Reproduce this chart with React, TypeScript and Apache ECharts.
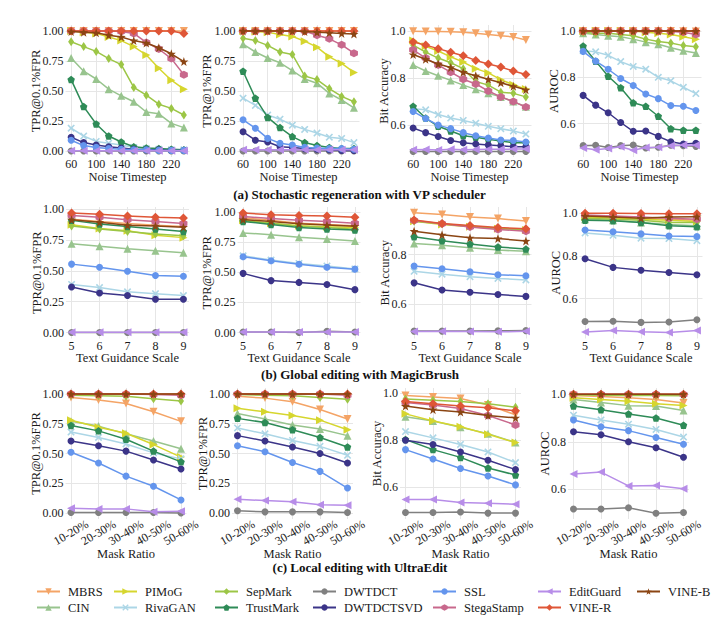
import React, { useEffect, useRef } from "react";
import * as echarts from "echarts";

// ---------- data ----------
const METHODS = ["MBRS", "CIN", "PIMoG", "RivaGAN", "SepMark", "TrustMark", "DWTDCT", "DWTDCTSVD", "SSL", "StegaStamp", "EditGuard", "VINE-R", "VINE-B"];

const NOISE_STEPS = [60, 80, 100, 120, 140, 160, 180, 200, 220, 240];
const NOISE_TICKS = [60, 100, 140, 180, 220];
const GUIDANCE_SCALES = [5, 6, 7, 8, 9];
const MASK_RATIOS = ["10-20%", "20-30%", "30-40%", "40-50%", "50-60%"];
const MASK_INDEX = [0, 1, 2, 3, 4];
const TPR_TICKS = [0, 0.25, 0.5, 0.75, 1.0];
const ACC_TICKS = [0.6, 0.8, 1.0];

// order of rows in each block follows METHODS
const REGEN_TPR01 = [
  [1, 1, 1, 1, 1, 1, 1, 1, 1, 1],
  [0.775, 0.665, 0.6, 0.515, 0.46, 0.41, 0.325, 0.31, 0.23, 0.195],
  [1.0, 0.99, 0.98, 0.95, 0.92, 0.87, 0.8, 0.69, 0.59, 0.515],
  [0.19, 0.125, 0.08, 0.065, 0.05, 0.03, 0.02, 0.015, 0.01, 0.01],
  [0.91, 0.87, 0.83, 0.77, 0.72, 0.53, 0.465, 0.39, 0.355, 0.3],
  [0.595, 0.37, 0.225, 0.125, 0.075, 0.035, 0.025, 0.02, 0.015, 0.01],
  [0, 0, 0, 0, 0, 0, 0, 0, 0, 0],
  [0.115, 0.07, 0.05, 0.035, 0.025, 0.015, 0.01, 0.01, 0.005, 0.005],
  [0.09, 0.045, 0.03, 0.02, 0.015, 0.01, 0.01, 0.005, 0.005, 0.005],
  [1, 1, 1, 1, 0.995, 0.98, 0.905, 0.85, 0.77, 0.635],
  [0.002, 0.002, 0.002, 0.002, 0.002, 0.002, 0.002, 0.002, 0.002, 0.002],
  [1, 1, 1, 1, 1, 1, 1, 1, 1, 0.98],
  [0.995, 0.99, 0.985, 0.965, 0.95, 0.92, 0.9, 0.86, 0.81, 0.745],
];
const REGEN_TPR1 = [
  [1, 1, 1, 1, 1, 1, 1, 1, 1, 1],
  [0.89, 0.825, 0.775, 0.735, 0.67, 0.6, 0.565, 0.48, 0.425, 0.36],
  [1.0, 0.995, 0.99, 0.97, 0.955, 0.915, 0.865, 0.785, 0.73, 0.655],
  [0.44, 0.38, 0.3, 0.265, 0.215, 0.18, 0.15, 0.115, 0.105, 0.07],
  [0.94, 0.92, 0.88, 0.825, 0.805, 0.625, 0.595, 0.52, 0.455, 0.41],
  [0.665, 0.44, 0.28, 0.195, 0.12, 0.07, 0.045, 0.03, 0.02, 0.02],
  [0, 0, 0, 0, 0, 0, 0, 0, 0, 0],
  [0.16, 0.09, 0.075, 0.035, 0.03, 0.02, 0.015, 0.01, 0.005, 0.005],
  [0.26, 0.19, 0.105, 0.065, 0.05, 0.03, 0.025, 0.02, 0.02, 0.015],
  [1, 1, 1, 1, 1, 1, 0.965, 0.935, 0.885, 0.815],
  [0.01, 0.01, 0.01, 0.01, 0.01, 0.01, 0.01, 0.01, 0.01, 0.01],
  [1, 1, 1, 1, 1, 1, 1, 1, 1, 1],
  [1, 1, 1, 1, 1, 0.995, 0.99, 0.985, 0.98, 0.975],
];
const REGEN_ACC = [
  [0.999, 0.998, 0.998, 0.997, 0.995, 0.99, 0.985, 0.98, 0.975, 0.962],
  [0.855, 0.83, 0.81, 0.79, 0.77, 0.752, 0.735, 0.72, 0.7, 0.678],
  [0.96, 0.935, 0.915, 0.89, 0.868, 0.84, 0.822, 0.793, 0.772, 0.753],
  [0.67, 0.665, 0.645, 0.63, 0.62, 0.608, 0.595, 0.585, 0.575, 0.562],
  [0.94, 0.91, 0.885, 0.865, 0.84, 0.785, 0.77, 0.74, 0.735, 0.72],
  [0.68, 0.63, 0.595, 0.575, 0.555, 0.548, 0.54, 0.532, 0.525, 0.525],
  [0.488, 0.488, 0.488, 0.488, 0.488, 0.488, 0.488, 0.488, 0.488, 0.488],
  [0.588, 0.568, 0.552, 0.535, 0.525, 0.52, 0.515, 0.512, 0.508, 0.508],
  [0.658, 0.628, 0.6, 0.585, 0.568, 0.555, 0.545, 0.537, 0.535, 0.528],
  [0.92, 0.885, 0.855, 0.825, 0.795, 0.775, 0.745, 0.72, 0.7, 0.677],
  [0.495, 0.496, 0.494, 0.497, 0.495, 0.496, 0.497, 0.497, 0.498, 0.499],
  [0.953, 0.94, 0.925, 0.91, 0.895, 0.875, 0.86, 0.847, 0.83, 0.815],
  [0.9, 0.88, 0.86, 0.845, 0.825, 0.81, 0.795, 0.78, 0.765, 0.75],
];
const REGEN_AUROC = [
  [1, 1, 1, 1, 1, 1, 1, 1, 0.999, 0.998],
  [0.99, 0.985, 0.98, 0.975, 0.965, 0.952, 0.943, 0.928, 0.915, 0.905],
  [1, 1, 1, 1, 1, 0.995, 0.99, 0.985, 0.975, 0.965],
  [0.915, 0.91, 0.895, 0.868, 0.847, 0.835, 0.8, 0.785, 0.757, 0.73],
  [0.995, 0.99, 0.99, 0.985, 0.98, 0.965, 0.955, 0.948, 0.937, 0.932],
  [0.935, 0.87, 0.805, 0.755, 0.69, 0.675, 0.632, 0.578, 0.572, 0.572],
  [0.505, 0.507, 0.497, 0.505, 0.508, 0.495, 0.498, 0.507, 0.505, 0.502],
  [0.722, 0.68, 0.647, 0.605, 0.567, 0.568, 0.545, 0.522, 0.512, 0.515],
  [0.912, 0.87, 0.835, 0.795, 0.765, 0.728, 0.708, 0.678, 0.675, 0.657],
  [1, 1, 1, 1, 1, 1, 1, 0.998, 0.995, 0.985],
  [0.495, 0.487, 0.493, 0.5, 0.485, 0.497, 0.498, 0.505, 0.508, 0.507],
  [1, 1, 1, 1, 1, 1, 1, 1, 1, 1],
  [1, 1, 1, 1, 1, 1, 1, 1, 1, 1],
];

const EDIT_TPR01 = [
  [0.92, 0.9, 0.885, 0.87, 0.86],
  [0.72, 0.7, 0.68, 0.663, 0.648],
  [0.875, 0.845, 0.825, 0.79, 0.77],
  [0.39, 0.365, 0.33, 0.315, 0.3],
  [0.865, 0.84, 0.82, 0.8, 0.785],
  [0.91, 0.88, 0.86, 0.84, 0.82],
  [0, 0, 0, 0, 0],
  [0.37, 0.32, 0.3, 0.27, 0.27],
  [0.555, 0.53, 0.497, 0.462, 0.457],
  [0.95, 0.935, 0.915, 0.9, 0.885],
  [0.003, 0.003, 0.003, 0.003, 0.003],
  [0.97, 0.96, 0.945, 0.935, 0.93],
  [0.915, 0.895, 0.87, 0.865, 0.855],
];
const EDIT_TPR1 = [
  [0.95, 0.93, 0.905, 0.895, 0.885],
  [0.825, 0.81, 0.79, 0.775, 0.757],
  [0.93, 0.905, 0.885, 0.875, 0.87],
  [0.635, 0.6, 0.572, 0.55, 0.527],
  [0.925, 0.905, 0.88, 0.87, 0.855],
  [0.92, 0.895, 0.87, 0.857, 0.85],
  [0.005, 0.005, 0.0, 0.01, 0.005],
  [0.49, 0.43, 0.415, 0.398, 0.355],
  [0.627, 0.595, 0.565, 0.54, 0.525],
  [0.96, 0.945, 0.93, 0.92, 0.905],
  [0.005, 0.005, 0.005, 0.005, 0.005],
  [0.99, 0.975, 0.97, 0.965, 0.955],
  [0.935, 0.92, 0.9, 0.89, 0.88],
];
const EDIT_ACC = [
  [0.97, 0.963, 0.952, 0.946, 0.936],
  [0.845, 0.838, 0.828, 0.818, 0.813],
  [0.935, 0.922, 0.913, 0.905, 0.9],
  [0.732, 0.72, 0.71, 0.703, 0.697],
  [0.935, 0.925, 0.915, 0.907, 0.9],
  [0.872, 0.856, 0.843, 0.831, 0.822],
  [0.489, 0.489, 0.489, 0.49, 0.491],
  [0.685, 0.656, 0.647, 0.638, 0.63],
  [0.753, 0.742, 0.73, 0.718, 0.714],
  [0.938, 0.925, 0.912, 0.902, 0.895],
  [0.487, 0.488, 0.487, 0.486, 0.488],
  [0.94, 0.926, 0.918, 0.91, 0.905],
  [0.895, 0.88, 0.868, 0.865, 0.855],
];
const EDIT_AUROC = [
  [0.985, 0.98, 0.975, 0.97, 0.965],
  [0.97, 0.965, 0.955, 0.945, 0.94],
  [0.98, 0.975, 0.97, 0.965, 0.96],
  [0.906, 0.895, 0.882, 0.88, 0.87],
  [0.975, 0.97, 0.965, 0.955, 0.955],
  [0.965, 0.963, 0.955, 0.94, 0.935],
  [0.494, 0.495, 0.49, 0.492, 0.502],
  [0.786, 0.746, 0.733, 0.722, 0.712],
  [0.92, 0.912, 0.902, 0.892, 0.89],
  [0.99, 0.985, 0.98, 0.975, 0.97],
  [0.445, 0.452, 0.446, 0.443, 0.452],
  [0.998, 0.998, 0.997, 0.996, 0.996],
  [0.985, 0.98, 0.975, 0.98, 0.982],
];

const LOCAL_TPR01 = [
  [0.97, 0.95, 0.92, 0.85, 0.77],
  [0.77, 0.73, 0.665, 0.605, 0.54],
  [0.78, 0.72, 0.67, 0.575, 0.47],
  [0.68, 0.635, 0.58, 0.505, 0.455],
  [0.99, 0.985, 0.98, 0.96, 0.94],
  [0.735, 0.69, 0.62, 0.52, 0.43],
  [0.005, 0.005, 0.005, 0.005, 0.0],
  [0.605, 0.565, 0.52, 0.445, 0.37],
  [0.51, 0.42, 0.31, 0.225, 0.11],
  [1, 1, 1, 0.995, 0.99],
  [0.04, 0.035, 0.035, 0.01, 0.015],
  [1, 1, 1, 1, 1],
  [1, 1, 1, 1, 1],
];
const LOCAL_TPR1 = [
  [0.98, 0.965, 0.935, 0.87, 0.79],
  [0.835, 0.79, 0.74, 0.705, 0.65],
  [0.88, 0.85, 0.82, 0.78, 0.7],
  [0.715, 0.665, 0.61, 0.56, 0.485],
  [0.995, 0.99, 0.985, 0.97, 0.955],
  [0.795, 0.76, 0.7, 0.635, 0.555],
  [0.02, 0.01, 0.01, 0.01, 0.005],
  [0.65, 0.605, 0.555, 0.5, 0.42],
  [0.565, 0.515, 0.425, 0.35, 0.21],
  [1, 1, 1, 1, 0.99],
  [0.115, 0.105, 0.095, 0.07, 0.065],
  [1, 1, 1, 1, 1],
  [1, 1, 1, 1, 1],
];
const LOCAL_ACC = [
  [0.99, 0.984, 0.977, 0.95, 0.908],
  [0.9, 0.882, 0.855, 0.828, 0.79],
  [0.912, 0.882, 0.857, 0.825, 0.79],
  [0.837, 0.81, 0.782, 0.75, 0.705],
  [0.975, 0.97, 0.965, 0.955, 0.94],
  [0.803, 0.76, 0.727, 0.682, 0.652],
  [0.493, 0.493, 0.495, 0.49, 0.49],
  [0.8, 0.782, 0.75, 0.715, 0.675],
  [0.76, 0.72, 0.68, 0.648, 0.61],
  [0.96, 0.95, 0.935, 0.905, 0.865],
  [0.548, 0.548, 0.535, 0.532, 0.528],
  [0.965, 0.955, 0.945, 0.938, 0.925],
  [0.945, 0.93, 0.92, 0.905, 0.895],
];
const LOCAL_AUROC = [
  [0.995, 0.99, 0.985, 0.978, 0.963],
  [0.978, 0.965, 0.952, 0.95, 0.932],
  [0.985, 0.978, 0.97, 0.96, 0.953],
  [0.912, 0.892, 0.874, 0.852, 0.82],
  [0.998, 0.996, 0.995, 0.994, 0.993],
  [0.95, 0.935, 0.917, 0.9, 0.87],
  [0.518, 0.518, 0.523, 0.5, 0.503],
  [0.842, 0.83, 0.8, 0.775, 0.735],
  [0.892, 0.863, 0.847, 0.818, 0.79],
  [1, 1, 1, 1, 0.999],
  [0.665, 0.673, 0.615, 0.617, 0.603],
  [1, 1, 1, 1, 1],
  [1, 1, 1, 1, 1],
];

// ---------- style ----------
const FONT = '"Liberation Serif", "Times New Roman", Times, serif';
const TEXT = "#1a1a1a";
const GRID_LINE = "#e6e6e6";

const COLORS = ["#f4a466", "#98c48e", "#d6d62e", "#acd6e6", "#9cc646", "#2e8b57", "#808080", "#3b3488", "#6495ed", "#c8688c", "#b78de8", "#df5637", "#8b4513"];
const SYMBOLS = [
  "path://M0,0L10,0L5,9Z",
  "path://M5,0L10,9L0,9Z",
  "path://M0,0L9,5L0,10Z",
  "path://M1.5,0L5,3.5L8.5,0L10,1.5L6.5,5L10,8.5L8.5,10L5,6.5L1.5,10L0,8.5L3.5,5L0,1.5Z",
  "diamond",
  "path://M5,0L9.76,3.45L7.94,9.05L2.06,9.05L0.24,3.45Z",
  "circle",
  "circle",
  "circle",
  "path://M5,0L9.33,2.5L9.33,7.5L5,10L0.67,7.5L0.67,2.5Z",
  "path://M9,0L0,5L9,10Z",
  "diamond",
  "path://M5,0L6.18,3.38L9.76,3.45L6.9,5.62L7.94,9.05L5,7L2.06,9.05L3.1,5.62L0.24,3.45L3.82,3.38Z",
];
const SYMBOL_SIZES: any[] = [8, 8, 8, 7.5, [6, 9], 7.5, 7, 7, 7, 8, 8, 9, 9];

type Panel = {
  data: number[][];
  row: number;
  col: number;
  yName: string;
  yMin: number;
  yMax: number;
  yTicks: number[];
  dec: number;
};

const ROW_TOP = [25, 207, 388];
const ROW_H = [132, 131.5, 131];
const ROW_LEFTS = [
  [65.5, 237.5, 407.5, 577.5],
  [66, 237.5, 408.5, 579.5],
  [65.5, 232, 400, 568],
];
const ROW_W = [
  [124, 122, 124, 124],
  [123, 123, 123, 123],
  [121, 121, 121, 121],
];
const NAME_GAPS = [
  [23.5, 24.5, 17.5, 17.5],
  [23.5, 25, 17.5, 18],
  [23.5, 23.5, 17.5, 17.5],
];

const PANELS: Panel[] = [
  { data: REGEN_TPR01, row: 0, col: 0, yName: "TPR@0.1%FPR", yMin: -0.05, yMax: 1.05, yTicks: TPR_TICKS, dec: 2 },
  { data: REGEN_TPR1, row: 0, col: 1, yName: "TPR@1%FPR", yMin: -0.05, yMax: 1.05, yTicks: TPR_TICKS, dec: 2 },
  { data: REGEN_ACC, row: 0, col: 2, yName: "Bit Accuracy", yMin: 0.4645, yMax: 1.0255, yTicks: ACC_TICKS, dec: 1 },
  { data: REGEN_AUROC, row: 0, col: 3, yName: "AUROC", yMin: 0.456, yMax: 1.026, yTicks: ACC_TICKS, dec: 1 },
  { data: EDIT_TPR01, row: 1, col: 0, yName: "TPR@0.1%FPR", yMin: -0.0485, yMax: 1.0185, yTicks: TPR_TICKS, dec: 2 },
  { data: EDIT_TPR1, row: 1, col: 1, yName: "TPR@1%FPR", yMin: -0.0495, yMax: 1.0395, yTicks: TPR_TICKS, dec: 2 },
  { data: EDIT_ACC, row: 1, col: 2, yName: "Bit Accuracy", yMin: 0.459, yMax: 0.993, yTicks: ACC_TICKS, dec: 1 },
  { data: EDIT_AUROC, row: 1, col: 3, yName: "AUROC", yMin: 0.415, yMax: 1.027, yTicks: ACC_TICKS, dec: 1 },
  { data: LOCAL_TPR01, row: 2, col: 0, yName: "TPR@0.1%FPR", yMin: -0.05, yMax: 1.05, yTicks: TPR_TICKS, dec: 2 },
  { data: LOCAL_TPR1, row: 2, col: 1, yName: "TPR@1%FPR", yMin: -0.05, yMax: 1.05, yTicks: TPR_TICKS, dec: 2 },
  { data: LOCAL_ACC, row: 2, col: 2, yName: "Bit Accuracy", yMin: 0.465, yMax: 1.022, yTicks: ACC_TICKS, dec: 1 },
  { data: LOCAL_AUROC, row: 2, col: 3, yName: "AUROC", yMin: 0.476, yMax: 1.026, yTicks: ACC_TICKS, dec: 1 },
];

const ROW_X = [
  { xs: NOISE_STEPS, min: 51, max: 249, ticks: NOISE_TICKS, name: "Noise Timestep", nameGap: 13.5, fmt: (v: number) => String(v) },
  { xs: GUIDANCE_SCALES, min: 4.8, max: 9.2, ticks: GUIDANCE_SCALES, name: "Text Guidance Scale", nameGap: 13.5, fmt: (v: number) => String(v) },
  { xs: MASK_INDEX, min: -0.2, max: 4.2, ticks: MASK_INDEX, name: "Mask Ratio", nameGap: 29, fmt: (v: number) => MASK_RATIOS[Math.round(v)] },
];

const CAPTIONS = [
  { text: "(a) Stochastic regeneration with VP scheduler", y: 194.5 },
  { text: "(b) Global editing with MagicBrush", y: 374.5 },
  { text: "(c) Local editing with UltraEdit", y: 567.5 },
];

const LEGEND_X = [36, 113, 214, 312, 432, 537, 636];
const LEGEND_Y = [592, 608];

function buildOption() {
  const grid: any[] = [];
  const xAxis: any[] = [];
  const yAxis: any[] = [];
  const series: any[] = [];

  PANELS.forEach((p, i) => {
    const rx = ROW_X[p.row];
    grid.push({
      left: ROW_LEFTS[p.row][p.col],
      top: ROW_TOP[p.row],
      width: ROW_W[p.row][p.col],
      height: ROW_H[p.row],
      containLabel: false,
      outerBoundsMode: "none",
    });
    const rotated = p.row === 2;
    xAxis.push({
      gridIndex: i,
      type: "value",
      min: rx.min,
      max: rx.max,
      axisLine: { show: false },
      axisTick: { show: false, customValues: rx.ticks },
      axisLabel: {
        customValues: rx.ticks,
        formatter: rx.fmt,
        fontFamily: FONT,
        fontSize: 12,
        lineHeight: 12,
        color: TEXT,
        margin: rotated ? 13.5 : 1,
        rotate: rotated ? 30 : 0,
        align: rotated ? "center" : undefined,
        verticalAlign: rotated ? "middle" : undefined,
        hideOverlap: false,
      },
      splitLine: { show: true, lineStyle: { color: GRID_LINE, width: 1 } },
      name: rx.name,
      nameLocation: "middle",
      nameGap: rx.nameGap,
      nameMoveOverlap: false,
      nameTextStyle: { fontFamily: FONT, fontSize: 12.5, lineHeight: 12, color: TEXT },
    });
    yAxis.push({
      gridIndex: i,
      type: "value",
      min: p.yMin,
      max: p.yMax,
      axisLine: { show: false },
      axisTick: { show: false, customValues: p.yTicks },
      axisLabel: {
        customValues: p.yTicks,
        formatter: (v: number) => v.toFixed(p.dec),
        fontFamily: FONT,
        fontSize: 12,
        lineHeight: 12,
        color: TEXT,
        margin: 2,
        hideOverlap: false,
      },
      splitLine: { show: true, lineStyle: { color: GRID_LINE, width: 1 } },
      name: p.yName,
      nameLocation: "middle",
      nameGap: NAME_GAPS[p.row][p.col],
      nameMoveOverlap: false,
      nameTextStyle: { fontFamily: FONT, fontSize: 12.5, lineHeight: 12, color: TEXT },
    });
    METHODS.forEach((m, k) => {
      series.push({
        type: "line",
        name: m,
        xAxisIndex: i,
        yAxisIndex: i,
        data: rx.xs.map((x, j) => [x, p.data[k][j]]),
        symbol: SYMBOLS[k],
        symbolSize: SYMBOL_SIZES[k],
        showSymbol: true,
        itemStyle: { color: COLORS[k], borderWidth: 0 },
        lineStyle: { color: COLORS[k], width: 1.5 },
        emphasis: { disabled: true },
        silent: true,
        z: 2 + k * 0.01,
      });
    });
  });

  const legend = METHODS.map((m, k) => ({
    data: [m],
    left: LEGEND_X[Math.floor(k / 2)],
    top: LEGEND_Y[k % 2] - 7,
    padding: 0,
    itemGap: 0,
    itemWidth: 23,
    itemHeight: 8,
    textStyle: { fontFamily: FONT, fontSize: 12.5, color: TEXT, padding: [0, 0, 0, 3] },
  }));

  const graphic = CAPTIONS.map((c) => ({
    type: "text",
    left: "center",
    top: c.y - 7,
    style: { text: c.text, font: `bold 13px ${FONT}`, fill: "#111" },
  }));

  return {
    animation: false,
    backgroundColor: "#ffffff",
    textStyle: { fontFamily: FONT },
    grid,
    xAxis,
    yAxis,
    series,
    legend,
    graphic,
  };
}

export default function App() {
  const ref = useRef<HTMLDivElement>(null);
  useEffect(() => {
    if (!ref.current) return;
    const chart = echarts.init(ref.current, undefined, { renderer: "svg" });
    chart.setOption(buildOption() as any);
    return () => chart.dispose();
  }, []);
  return <div ref={ref} style={{ position: "fixed", left: 0, top: 0, width: 720, height: 634, background: "#fff" }} />;
}
